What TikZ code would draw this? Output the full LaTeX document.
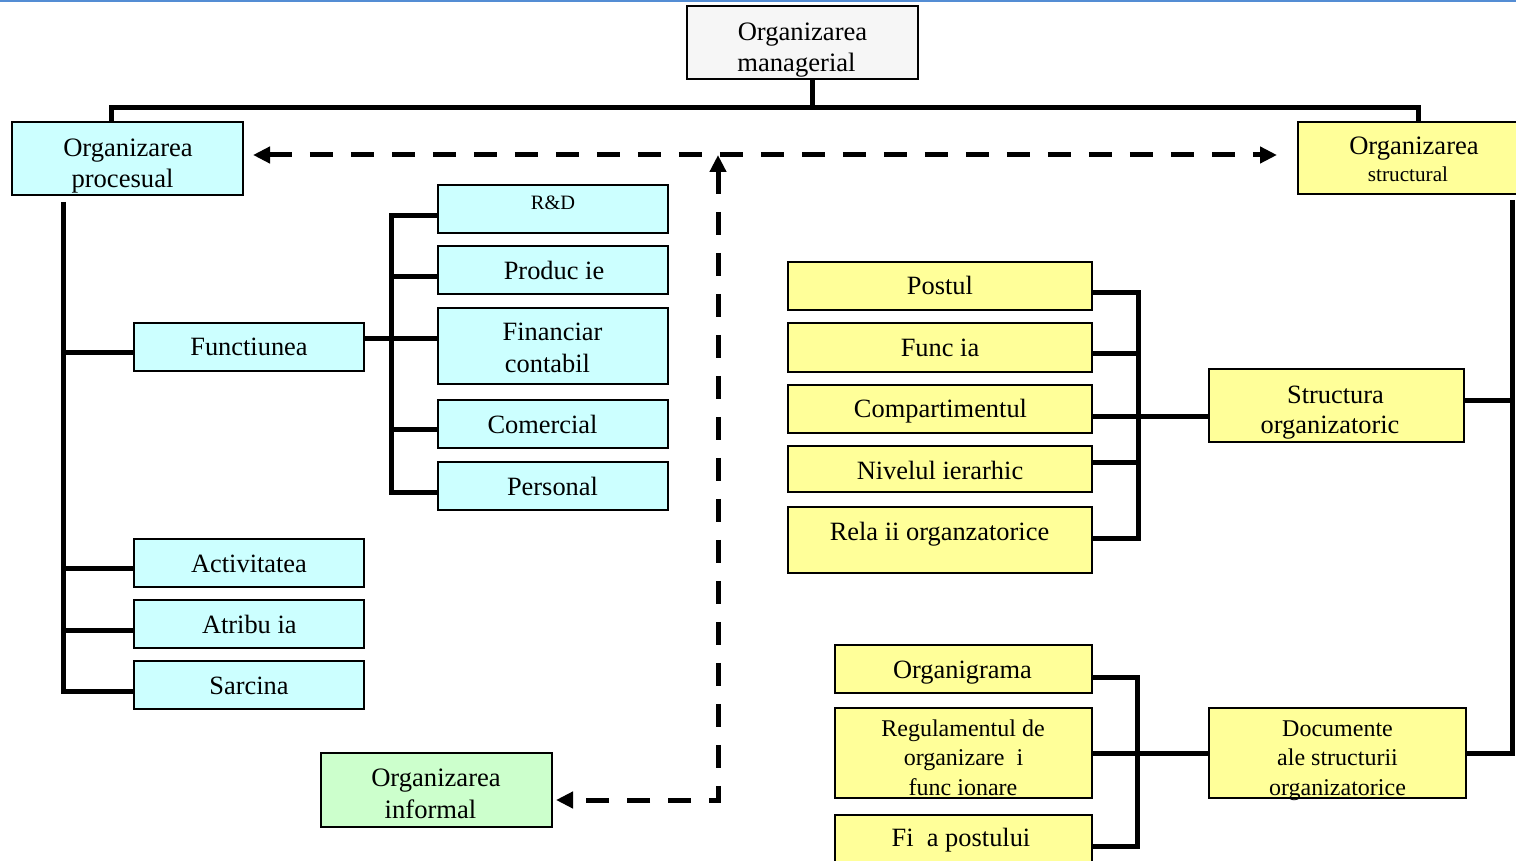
\documentclass[tikz,border=0pt]{standalone}
\usepackage{fontspec}
\setmainfont{Liberation Serif}
\usetikzlibrary{fit,arrows.meta}
\definecolor{cyanbox}{HTML}{CCFFFF}
\definecolor{yelbox}{HTML}{FFFF99}
\definecolor{grnbox}{HTML}{CCFFCC}
\definecolor{graybox}{HTML}{F6F6F6}
\definecolor{topblue}{RGB}{84,141,212}
\newcommand\FntBig{\fontsize{13.3pt}{15pt}\selectfont}
\newcommand\FntMid{\fontsize{13.2pt}{15pt}\selectfont}
\newcommand\FntSml{\fontsize{12pt}{14pt}\selectfont}
\newcommand\FntStr{\fontsize{10.6pt}{12pt}\selectfont}
\newcommand\FntRD{\fontsize{10.2pt}{12pt}\selectfont}
\tikzset{
  box/.style={draw=black, line width=1pt, inner sep=0pt},
  conn/.style={line width=2.5pt},
  dashln/.style={line width=2.5pt, dash pattern=on 11.5pt off 9pt},
  arrowhd/.tip={Triangle[length=8.5pt,width=8pt]},
  tx/.style={inner sep=0pt, anchor=base},
  tbig/.style={tx, font=\FntBig},
  tmid/.style={tx, font=\FntMid},
  tsml/.style={tx, font=\FntSml},
}
\begin{document}
\begin{tikzpicture}[x=0.5pt,y=-0.5pt]
\useasboundingbox (0,0) rectangle (1516,861);
\clip (0,0) rectangle (1516,861);
\fill[topblue] (0,0) rectangle (1516,2.5);

% boxes
\node[box, fill=graybox, fit={(687,6)(918,79)}] (man) {};
\node[box, fill=cyanbox, fit={(12,122)(243,195)}] (proc) {};
\node[box, fill=yelbox, fit={(1298,122)(1529,194)}] (struct) {};
\node[box, fill=grnbox, fit={(321,753)(552,827)}] (inf) {};

\node[box, fill=cyanbox, fit={(438,185)(668,233)}] (rd) {};
\node[box, fill=cyanbox, fit={(438,246)(668,294)}] (prod) {};
\node[box, fill=cyanbox, fit={(438,308)(668,384)}] (fin) {};
\node[box, fill=cyanbox, fit={(438,400)(668,448)}] (com) {};
\node[box, fill=cyanbox, fit={(438,462)(668,510)}] (pers) {};

\node[box, fill=cyanbox, fit={(134,323)(364,371)}] (func) {};
\node[box, fill=cyanbox, fit={(134,539)(364,587)}] (act) {};
\node[box, fill=cyanbox, fit={(134,600)(364,648)}] (atr) {};
\node[box, fill=cyanbox, fit={(134,661)(364,709)}] (sarc) {};

\node[box, fill=yelbox, fit={(788,262)(1092,310)}] (post) {};
\node[box, fill=yelbox, fit={(788,323)(1092,372)}] (fct) {};
\node[box, fill=yelbox, fit={(788,385)(1092,433)}] (comp) {};
\node[box, fill=yelbox, fit={(788,446)(1092,492)}] (niv) {};
\node[box, fill=yelbox, fit={(788,507)(1092,573)}] (rel) {};
\node[box, fill=yelbox, fit={(1209,369)(1464,442)}] (stru) {};

\node[box, fill=yelbox, fit={(835,645)(1092,693)}] (org) {};
\node[box, fill=yelbox, fit={(835,708)(1092,798)}] (reg) {};
\node[box, fill=yelbox, fit={(835,815)(1092,863)}] (fisa) {};
\node[box, fill=yelbox, fit={(1209,708)(1466,798)}] (docs) {};

% texts
\node[tbig] (manT1) at (802.5,40.5) {Organizarea};
\node[tbig] (manT2) at (796.5,71.5) {managerial};
\node[tbig] (procT1) at (128,157) {Organizarea};
\node[tbig] (procT2) at (122.5,188) {procesual};
\node[tbig] (structT1) at (1414,155) {Organizarea};
\node[tx, font=\FntStr] (structT2) at (1408,182) {structural};
\node[tbig] (infT1) at (436,786.5) {Organizarea};
\node[tbig] (infT2) at (430.5,818) {informal};

\node[tx, font=\FntRD] (rdT) at (553,210) {R\&D};
\node[tmid] (prodT) at (554,280) {Produc ie};
\node[tmid] (finT1) at (552.5,341) {Financiar};
\node[tmid] (finT2) at (547.5,372.7) {contabil};
\node[tmid] (comT) at (542.5,433) {Comercial};
\node[tmid] (persT) at (552.5,495) {Personal};

\node[tmid] (funcT) at (249,356) {Functiunea};
\node[tmid] (actT) at (249,572) {Activitatea};
\node[tmid] (atrT) at (249.3,633) {Atribu ia};
\node[tmid] (sarcT) at (249,694.5) {Sarcina};

\node[tmid] (postT) at (940,295) {Postul};
\node[tmid] (fctT) at (940,356.7) {Func ia};
\node[tmid] (compT) at (940.5,417.7) {Compartimentul};
\node[tmid] (nivT) at (940,479) {Nivelul ierarhic};
\node[tmid] (relT) at (939.5,540) {Rela ii organzatorice};
\node[tmid] (struT1) at (1335.5,403) {Structura};
\node[tmid] (struT2) at (1330,433) {organizatoric};

\node[tmid] (orgT) at (962.5,678) {Organigrama};
\node[tsml] (regT1) at (963,736.7) {Regulamentul de};
\node[tsml] (regT2) at (963.5,765) {organizare\ \ i};
\node[tsml] (regT3) at (963,795) {func ionare};
\node[tmid] (fisaT) at (961,846.7) {Fi\ \ a postului};
\node[tsml] (docsT1) at (1337.5,736.7) {Documente};
\node[tsml] (docsT2) at (1337.5,765) {ale structurii};
\node[tsml] (docsT3) at (1337.5,795) {organizatorice};

% helper coordinates
\coordinate (busL) at (111,107.5);
\coordinate (busR) at (1418,107.5);
\coordinate (lv) at (63,202);
\coordinate (brA) at (391,0);
\coordinate (brB) at (1138,0);
\coordinate (brC) at (1137.5,0);
\coordinate (rv) at (1512,200);
\coordinate (dh) at (718,155);

% solid connectors
\draw[conn] ([xshift=5pt]man.south) -- ([xshift=5pt]man.south |- busL);
\draw[conn] (proc.north -| busL) -- (busL) -- (busR) -- (struct.north -| busR);

\draw[conn] (lv) |- ([yshift=-3pt]sarc.west);
\draw[conn] ([yshift=-3pt]func.west) -- ([yshift=-3pt]func.west -| lv);
\draw[conn] ([yshift=-2.75pt]act.west) -- ([yshift=-2.75pt]act.west -| lv);
\draw[conn] ([yshift=-3pt]atr.west) -- ([yshift=-3pt]atr.west -| lv);

\draw[conn] ([yshift=4.25pt]func.east) -- ([yshift=4.25pt]func.east -| brA);
\draw[conn] ([yshift=-3.5pt]rd.west) -| ([yshift=-3pt]pers.west -| brA) -- ([yshift=-3pt]pers.west);
\draw[conn] ([yshift=-3.5pt]prod.west) -- ([yshift=-3.5pt]prod.west -| brA);
\draw[conn] ([yshift=3.75pt]fin.west) -- ([yshift=3.75pt]fin.west -| brA);
\draw[conn] ([yshift=-2.5pt]com.west) -- ([yshift=-2.5pt]com.west -| brA);

\draw[conn] ([yshift=-3.5pt]post.east) -| ([yshift=1pt]rel.east -| brB) -- ([yshift=1pt]rel.east);
\draw[conn] ([yshift=-3pt]fct.east) -- ([yshift=-3pt]fct.east -| brB);
\draw[conn] ([yshift=-3.5pt]comp.east) -- ([yshift=-3.5pt]comp.east -| stru.west);
\draw[conn] ([yshift=3.5pt]niv.east) -- ([yshift=3.5pt]niv.east -| brB);

\draw[conn] ([yshift=2.75pt]stru.east) -- ([yshift=2.75pt]stru.east -| rv);
\draw[conn] (rv) |- (docs.east);

\draw[conn] ([yshift=-4pt]org.east) -| ([yshift=-3.75pt]fisa.east -| brC) -- ([yshift=-3.75pt]fisa.east);
\draw[conn] (reg.east) -- (docs.west);

% dashed connectors
\draw[dashln, {arrowhd}-{arrowhd}, shorten <=4.5pt, shorten >=10pt] (proc.east |- dh) -- (struct.west |- dh);
\draw[dashln, {arrowhd}-{arrowhd}, shorten >=1.5pt] (dh) |- ([yshift=-5pt]inf.east);
\end{tikzpicture}
\end{document}
